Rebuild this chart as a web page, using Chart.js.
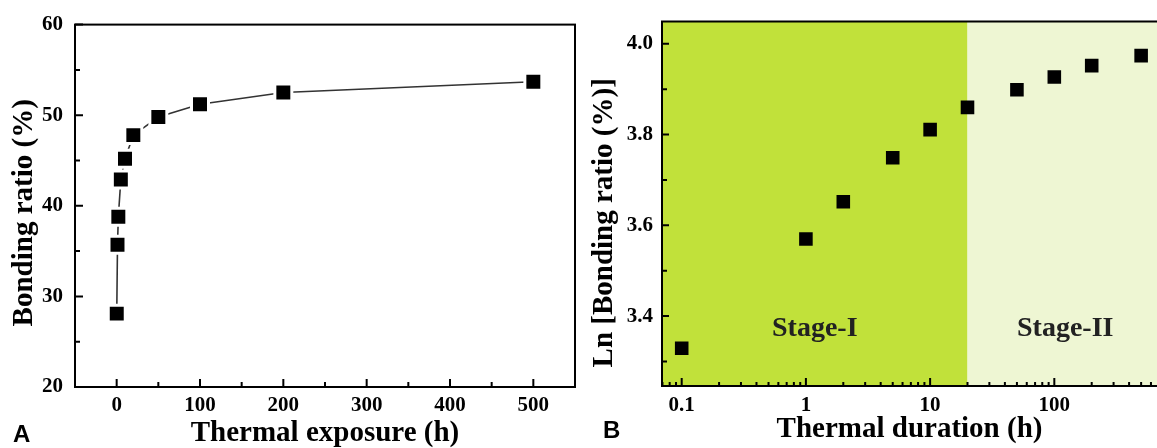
<!DOCTYPE html>
<html>
<head>
<meta charset="utf-8">
<script src="https://cdn.jsdelivr.net/npm/chart.js@4.4.1/dist/chart.umd.min.js"></script>
<style>
  html, body { margin: 0; padding: 0; background: #ffffff; }
  #wrap { position: relative; width: 1157px; height: 448px; overflow: hidden; }
  canvas { position: absolute; top: 0; }
</style>
</head>
<body>
<div id="wrap">
  <canvas id="chartA" width="580" height="448" style="left:0"></canvas>
  <canvas id="chartB" width="577" height="448" style="left:580px"></canvas>
</div>
<script>
// ---------- data ----------
const hoursA = [0.1, 1, 2, 5, 10, 20, 50, 100, 200, 500];
const bondingA = [28.1, 35.7, 38.8, 42.9, 45.2, 47.8, 49.8, 51.2, 52.5, 53.7];

const hoursB = [0.1, 1, 2, 5, 10, 20, 50, 100, 200, 500];
const lnBondingB = [3.329, 3.570, 3.652, 3.749, 3.811, 3.860, 3.899, 3.927, 3.952, 3.974];

const ticksAX = [0, 100, 200, 300, 400, 500];
const ticksAY = [20, 30, 40, 50, 60];
const ticksBX = [0.1, 1, 10, 100];
const ticksBY = [3.4, 3.6, 3.8, 4.0];

const stageBoundary = 20;
const stageLabels = ['Stage-I', 'Stage-II'];
const stageLabelY = 3.356;

const titleAX = 'Thermal exposure (h)';
const titleAY = 'Bonding ratio (%)';
const titleBX = 'Thermal duration (h)';
const titleBY = 'Ln [Bonding ratio (%)]';

// ---------- styles ----------
const SERIF = "'Liberation Serif', 'Times New Roman', serif";
const tickFont = { family: SERIF, size: 21, weight: 'bold' };
const titleFont = { family: SERIF, size: 29, weight: 'bold', lineHeight: 1 };

function setTicks(values) {
  return function (scale) { scale.ticks = values.map(v => ({ value: v })); };
}

function linearMinors(majors, min, max) {
  const step = majors[1] - majors[0];
  const out = [];
  for (let i = -2; i <= majors.length * 2 + 2; i++) {
    const v = majors[0] + (i * step) / 2;
    const r = Math.round(v * 1e6) / 1e6;
    if (r > min + 1e-9 && r < max - 1e-9 && i % 2 !== 0) out.push(r);
  }
  return out;
}

function logMinors(majors, min, max) {
  const out = [];
  for (let e = -3; e <= 4; e++) {
    for (let k = 2; k <= 9; k++) {
      const v = k * Math.pow(10, e);
      if (v > min && v < max) out.push(v);
    }
  }
  return out;
}

function drawTicksX(ctx, scale, area, majors, minors, majorLen, minorLen) {
  ctx.beginPath();
  majors.forEach(v => {
    const p = scale.getPixelForValue(v);
    ctx.moveTo(p, area.bottom); ctx.lineTo(p, area.bottom - majorLen);
  });
  minors.forEach(v => {
    const p = scale.getPixelForValue(v);
    ctx.moveTo(p, area.bottom); ctx.lineTo(p, area.bottom - minorLen);
  });
  ctx.stroke();
}

function drawTicksY(ctx, scale, area, majors, minors, majorLen, minorLen) {
  ctx.beginPath();
  majors.forEach(v => {
    const p = scale.getPixelForValue(v);
    ctx.moveTo(area.left, p); ctx.lineTo(area.left + majorLen, p);
  });
  minors.forEach(v => {
    const p = scale.getPixelForValue(v);
    ctx.moveTo(area.left, p); ctx.lineTo(area.left + minorLen, p);
  });
  ctx.stroke();
}

function drawYTitle(ctx, text, x, y) {
  ctx.save();
  ctx.translate(x, y);
  ctx.rotate(-Math.PI / 2);
  ctx.font = 'bold 29px ' + SERIF;
  ctx.fillStyle = '#000';
  ctx.textAlign = 'center';
  ctx.textBaseline = 'alphabetic';
  ctx.fillText(text, 0, 0);
  ctx.restore();
}

function drawPanelLetter(ctx, letter, x, y) {
  ctx.save();
  ctx.font = "bold 24px 'Liberation Sans', Arial, sans-serif";
  ctx.fillStyle = '#000';
  ctx.textAlign = 'left';
  ctx.textBaseline = 'alphabetic';
  ctx.fillText(letter, x, y);
  ctx.restore();
}

// ---------- Chart A ----------
const decoA = {
  id: 'decoA',
  beforeDatasetsDraw(chart) {
    const { ctx, chartArea: a, scales } = chart;
    ctx.save();
    ctx.strokeStyle = '#000';
    ctx.lineWidth = 2;
    ctx.strokeRect(a.left, a.top, a.right - a.left, a.bottom - a.top);
    drawTicksX(ctx, scales.x, a, ticksAX, linearMinors(ticksAX, scales.x.min, scales.x.max), 8, 5);
    drawTicksY(ctx, scales.y, a, ticksAY, linearMinors(ticksAY, scales.y.min, scales.y.max), 8, 5);
    ctx.restore();
    drawYTitle(ctx, titleAY, 32, (a.top + a.bottom) / 2 + 7);
    drawPanelLetter(ctx, 'A', 13, 442);
  }
};

new Chart(document.getElementById('chartA'), {
  type: 'scatter',
  data: {
    datasets: [{
      data: hoursA.map((x, i) => ({ x: x, y: bondingA[i] })),
      showLine: true,
      borderColor: '#333333',
      borderWidth: 1.6,
      tension: 0,
      pointStyle: 'rect',
      pointRadius: 12,
      pointHoverRadius: 12,
      pointBackgroundColor: '#000000',
      pointBorderColor: '#ffffff',
      pointBorderWidth: 3
    }]
  },
  options: {
    responsive: false,
    animation: false,
    events: [],
    layout: { autoPadding: false, padding: { left: 0, right: 5, top: 22, bottom: 0 } },
    plugins: { legend: { display: false }, tooltip: { enabled: false } },
    scales: {
      x: {
        type: 'linear',
        min: -50, max: 550,
        afterBuildTicks: setTicks(ticksAX),
        afterFit: s => { s.height = 61; },
        grid: { display: false, drawTicks: false },
        border: { display: false },
        ticks: { font: tickFont, color: '#000', padding: 6, maxRotation: 0, autoSkip: false },
        title: { display: true, text: titleAX, font: titleFont, color: '#000', padding: { top: 0, bottom: 0 } }
      },
      y: {
        type: 'linear',
        min: 20, max: 60,
        afterBuildTicks: setTicks(ticksAY),
        afterFit: s => { s.width = 75; },
        grid: { display: false, drawTicks: false },
        border: { display: false },
        ticks: { font: tickFont, color: '#000', padding: 12, autoSkip: false },
        title: { display: false }
      }
    }
  },
  plugins: [decoA]
});

// ---------- Chart B ----------
const decoB = {
  id: 'decoB',
  beforeDatasetsDraw(chart) {
    const { ctx, chartArea: a, scales } = chart;
    const xb = scales.x.getPixelForValue(stageBoundary);
    ctx.save();
    ctx.fillStyle = '#c1e13a';
    ctx.fillRect(a.left, a.top, xb - a.left, a.bottom - a.top);
    ctx.fillStyle = '#eef6d3';
    ctx.fillRect(xb, a.top, a.right - xb, a.bottom - a.top);

    // stage labels
    const ly = scales.y.getPixelForValue(stageLabelY);
    ctx.font = 'bold 28px ' + SERIF;
    ctx.fillStyle = '#222';
    ctx.textAlign = 'center';
    ctx.textBaseline = 'alphabetic';
    ctx.fillText(stageLabels[0], (a.left + xb) / 2, ly);
    ctx.fillText(stageLabels[1], (xb + a.right) / 2 + 3, ly);

    // frame (left, top, bottom)
    ctx.strokeStyle = '#000';
    ctx.lineWidth = 2;
    ctx.beginPath();
    ctx.moveTo(a.right + 2, a.top);
    ctx.lineTo(a.left, a.top);
    ctx.lineTo(a.left, a.bottom);
    ctx.lineTo(a.right + 2, a.bottom);
    ctx.stroke();
    drawTicksX(ctx, scales.x, a, ticksBX, logMinors(ticksBX, scales.x.min, scales.x.max), 8, 4);
    drawTicksY(ctx, scales.y, a, ticksBY, linearMinors(ticksBY, scales.y.min, scales.y.max), 7, 5);
    ctx.restore();
    drawYTitle(ctx, titleBY, 32, (a.top + a.bottom) / 2 + 19);
    drawPanelLetter(ctx, 'B', 23, 438);
  }
};

new Chart(document.getElementById('chartB'), {
  type: 'scatter',
  data: {
    datasets: [{
      data: hoursB.map((x, i) => ({ x: x, y: lnBondingB[i] })),
      showLine: false,
      pointStyle: 'rect',
      pointRadius: 9.6,
      pointHoverRadius: 9.6,
      pointBackgroundColor: '#000000',
      pointBorderWidth: 0
    }]
  },
  options: {
    responsive: false,
    animation: false,
    events: [],
    layout: { autoPadding: false, padding: { left: 0, right: 0, top: 21, bottom: 0 } },
    plugins: { legend: { display: false }, tooltip: { enabled: false } },
    scales: {
      x: {
        type: 'logarithmic',
        min: 0.0694, max: 671,
        afterBuildTicks: setTicks(ticksBX),
        afterFit: s => { s.height = 62; },
        grid: { display: false, drawTicks: false },
        border: { display: false },
        ticks: { font: tickFont, color: '#000', padding: 7, maxRotation: 0, autoSkip: false,
                 callback: v => String(v) },
        title: { display: true, text: titleBX, font: titleFont, color: '#000', padding: { top: 0, bottom: 4 } }
      },
      y: {
        type: 'linear',
        min: 3.246, max: 4.049,
        afterBuildTicks: setTicks(ticksBY),
        afterFit: s => { s.width = 82; },
        grid: { display: false, drawTicks: false },
        border: { display: false },
        ticks: { font: tickFont, color: '#000', padding: 9, autoSkip: false,
                 callback: v => Number(v).toFixed(1) },
        title: { display: false }
      }
    }
  },
  plugins: [decoB]
});
</script>
</body>
</html>
